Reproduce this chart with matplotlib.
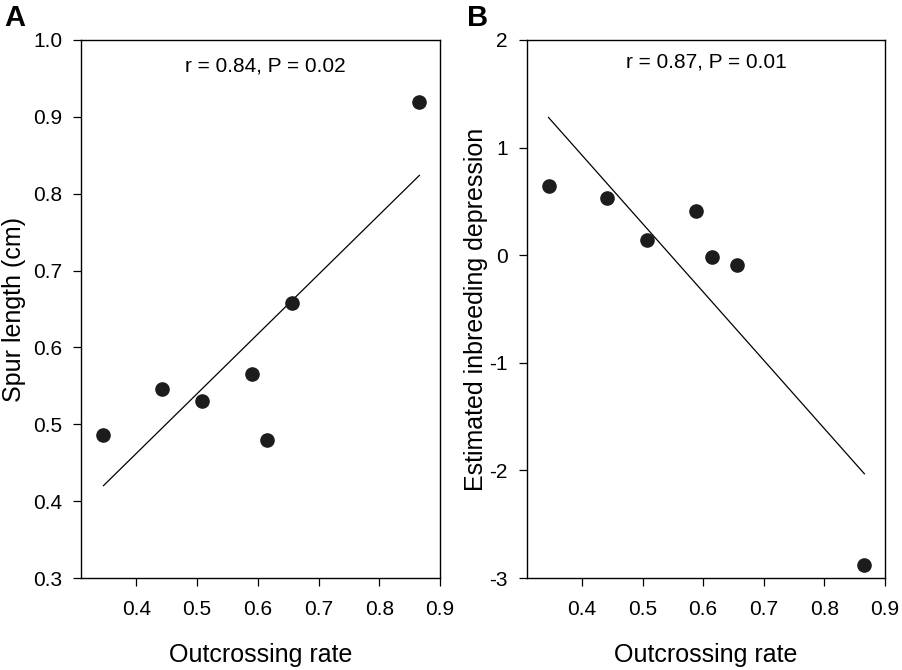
import numpy as np
import matplotlib
matplotlib.use('Agg')
import matplotlib.pyplot as plt

plt.rcParams['font.family'] = ['Liberation Sans', 'DejaVu Sans']
plt.rcParams['axes.unicode_minus'] = False

# outcrossing rate for the 7 populations
outcross = [0.346, 0.442, 0.508, 0.590, 0.615, 0.656, 0.866]
# panel A
spur = [0.486, 0.546, 0.530, 0.565, 0.480, 0.658, 0.919]
# panel B
inbreed_x = [0.345, 0.442, 0.508, 0.589, 0.615, 0.656, 0.866]
inbreed = [0.644, 0.536, 0.137, 0.415, -0.015, -0.089, -2.877]

xticks = [0.4, 0.5, 0.6, 0.7, 0.8, 0.9]
yticks_a = [0.3, 0.4, 0.5, 0.6, 0.7, 0.8, 0.9, 1.0]
yticks_b = [-3, -2, -1, 0, 1, 2]

fig = plt.figure(figsize=(9.03, 6.70), dpi=100)
axA = fig.add_axes([0.0897, 0.1373, 0.3976, 0.803])
axB = fig.add_axes([0.5833, 0.1373, 0.3968, 0.803])


def panel(ax, x, y, yticks, ylab, txt, txt_pos, lab_x):
    x = np.array(x)
    y = np.array(y)
    ax.plot(x, y, 'o', color='#1c1c1c', markersize=9.5, zorder=3)
    # least squares line over the data range
    b, a = np.polyfit(x, y, 1)
    xx = np.array([x.min(), x.max()])
    ax.plot(xx, a + b * xx, color='black', lw=0.9)
    ax.set_xlim(0.309, 0.9)
    ax.set_ylim(yticks[0], yticks[-1])
    ax.set_xticks(xticks)
    ax.set_yticks(yticks)
    ax.tick_params(direction='out', length=6, width=0.9, labelsize=15, color='black')
    ax.tick_params(axis='x', pad=9.5)
    ax.tick_params(axis='y', pad=7.5)
    for s in ax.spines.values():
        s.set_linewidth(1.0)
    ax.set_xlabel('Outcrossing rate', fontsize=18)
    ax.xaxis.set_label_coords(0.5, -0.121)
    ax.set_ylabel(ylab, fontsize=18)
    ax.yaxis.set_label_coords(lab_x, 0.5)
    ax.text(txt_pos[0], txt_pos[1], txt, transform=ax.transAxes, fontsize=15,
            ha='center', va='baseline')


panel(axA, outcross, spur, yticks_a, 'Spur length (cm)', 'r = 0.84, P = 0.02',
      (0.5125, 0.941), -0.153)
panel(axB, inbreed_x, inbreed, yticks_b, 'Estimated inbreeding depression',
      'r = 0.87, P = 0.01', (0.5, 0.9485), -0.108)

fig.text(4 / 903, 1 - 26 / 670, 'A', fontsize=21, fontweight='bold', va='baseline')
fig.text(467 / 903, 1 - 26 / 670, 'B', fontsize=21, fontweight='bold', va='baseline')

fig.savefig('out.png', dpi=100)
